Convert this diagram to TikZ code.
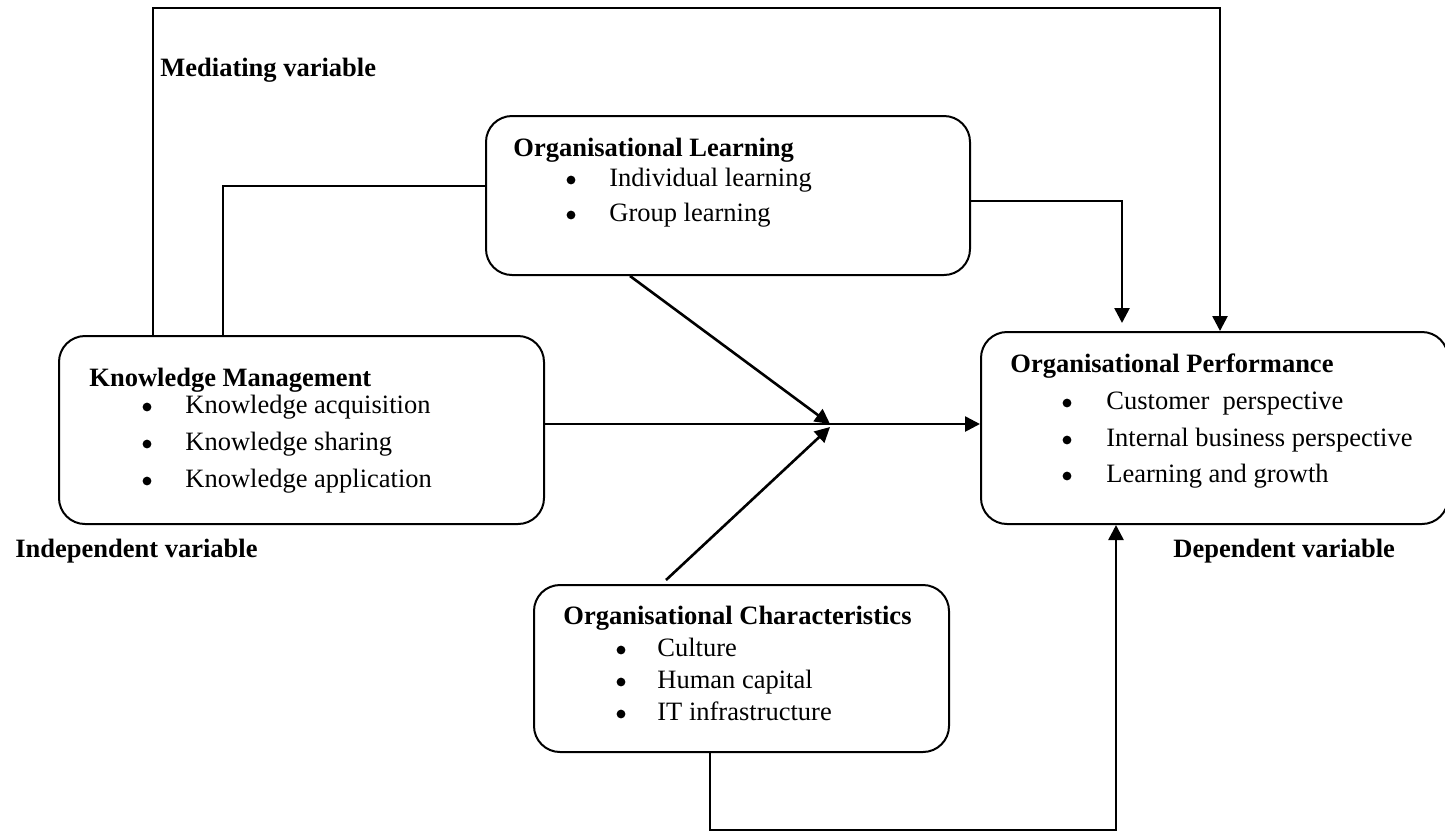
\documentclass[tikz,border=0pt]{standalone}
\usepackage{fontspec}
\setmainfont{Liberation Serif}
\usetikzlibrary{arrows.meta,calc}
\begin{document}
\begin{tikzpicture}[x=0.5pt,y=-0.5pt,
  box/.style={draw, line width=1pt, rounded corners=13pt, inner sep=0pt, anchor=north west},
  link/.style={line width=1pt},
  flow/.style={line width=1.3pt, -{Triangle[length=7.5pt,width=7.5pt]}},
  ttl/.style={font=\fontsize{13.25}{15}\selectfont\bfseries, anchor=mid west, inner sep=0pt},
  itm/.style={font=\fontsize{13.25}{15}\selectfont, anchor=mid west, inner sep=0pt},
  bul/.style={circle, fill, inner sep=0pt, minimum size=4.4pt, yshift=1pt}]
\useasboundingbox (0,0) rectangle (1445,832);

% boxes
\node[box, minimum width=242.5pt, minimum height=94pt]   (km) at (58,335) {};
\node[box, minimum width=242pt,   minimum height=79.5pt] (ol) at (485,115) {};
\node[box, minimum width=233.5pt, minimum height=96pt]   (op) at (980,331) {};
\node[box, minimum width=207.5pt, minimum height=83.5pt] (oc) at (533,584) {};

% Knowledge Management
\node[ttl] (kmT) at (89,382) {Knowledge Management};
\node[bul] (kmB1) at (147,409) {}; \node[itm] (kmI1) at (185,409) {Knowledge acquisition};
\node[bul] (kmB2) at (147,446) {}; \node[itm] (kmI2) at (185,446) {Knowledge sharing};
\node[bul] (kmB3) at (147,483) {}; \node[itm] (kmI3) at (185,483) {Knowledge application};

% Organisational Learning
\node[ttl] (olT) at (513,152) {Organisational Learning};
\node[bul] (olB1) at (571,182) {}; \node[itm] (olI1) at (609,182) {Individual learning};
\node[bul] (olB2) at (571,217) {}; \node[itm] (olI2) at (609,217) {Group learning};

% Organisational Performance
\node[ttl] (opT) at (1010,368) {Organisational Performance};
\node[bul] (opB1) at (1067,405) {}; \node[itm] (opI1) at (1106,405) {Customer\ \ perspective};
\node[bul] (opB2) at (1067,442) {}; \node[itm] (opI2) at (1106,442) {Internal business perspective};
\node[bul] (opB3) at (1067,478) {}; \node[itm] (opI3) at (1106,478) {Learning and growth};

% Organisational Characteristics
\node[ttl] (ocT) at (563,620) {Organisational Characteristics};
\node[bul] (ocB1) at (621,652) {}; \node[itm] (ocI1) at (657,652) {Culture};
\node[bul] (ocB2) at (621,684) {}; \node[itm] (ocI2) at (657,684) {Human capital};
\node[bul] (ocB3) at (621,716) {}; \node[itm] (ocI3) at (657,716) {IT infrastructure};

% variable labels
\node[ttl] (med) at (160,72)   {Mediating variable};
\node[ttl] (ind) at (15,553)   {Independent variable};
\node[ttl] (dep) at (1173,553) {Dependent variable};

% routing points
\coordinate (t1) at (153,8);
\coordinate (t2) at (1220,8);
\coordinate (c1) at (223,186);
\coordinate (c2) at (1122,201);
\coordinate (j)  at (830,424);
\coordinate (b1) at (710,830);
\coordinate (b2) at (1116,830);

% connectors
\draw[flow] (t1 |- km.north) -- (t1) -- (t2) -- (t2 |- op.north);
\draw[link] (c1 |- km.north) -- (c1) -- (c1 -| ol.west);
\draw[flow, shorten >=4pt] (ol.east |- c2) -- (c2) -- (c2 |- op.north);
\draw[flow] ($(ol.south west)+(145,0)$) -- (j);
\draw[flow] ($(oc.north west)+(133,-4)$) -- ($(j)+(0,3)$);
\draw[flow] (km.east |- j) -- (j -| op.west);
\draw[flow] (oc.south -| b1) -- (b1) -- (b2) -- (b2 |- op.south);
\end{tikzpicture}
\end{document}
